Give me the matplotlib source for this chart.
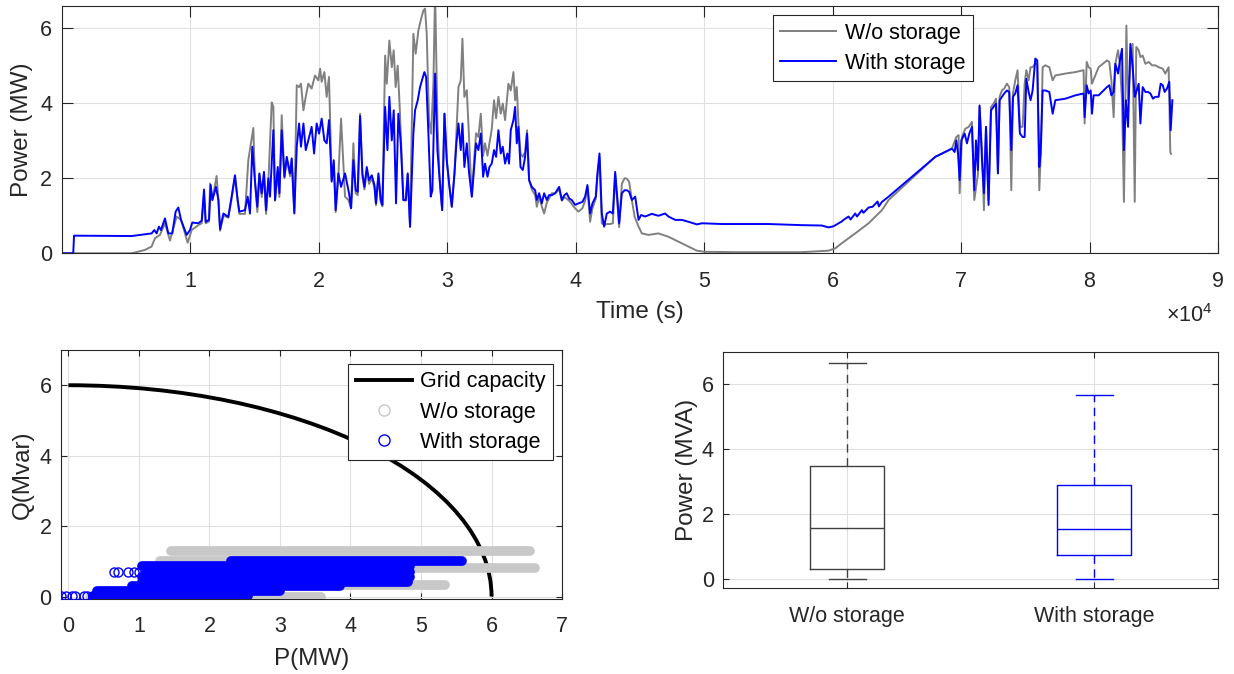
import numpy as np
import matplotlib
matplotlib.use("Agg")
import matplotlib.pyplot as plt
from matplotlib.patches import Arc
from matplotlib.lines import Line2D
from matplotlib.ticker import FuncFormatter

plt.rcParams["font.family"] = ["Liberation Sans", "DejaVu Sans"]
plt.rcParams["mathtext.fontset"] = "custom"
plt.rcParams["mathtext.rm"] = "Liberation Sans"

# ---- time series, time in 1e4 s, power in MW ----
t_wo = [0, 0.543, 0.646, 0.698, 0.724, 0.763, 0.802, 0.841, 0.893, 0.927, 0.979, 1.010, 1.062, 1.088,
        1.106, 1.119, 1.145, 1.153, 1.171, 1.204, 1.218, 1.231, 1.257, 1.295, 1.321, 1.347, 1.368, 1.381,
        1.425, 1.451, 1.490, 1.503, 1.521, 1.537, 1.555, 1.573, 1.589, 1.607, 1.633, 1.646, 1.659, 1.680,
        1.693, 1.711, 1.732, 1.750, 1.776, 1.789, 1.809, 1.828, 1.846, 1.861, 1.880, 1.898, 1.918, 1.944,
        1.970, 1.996, 2.010, 2.022, 2.043, 2.061, 2.079, 2.100, 2.116, 2.131, 2.152, 2.173, 2.204, 2.230,
        2.251, 2.269, 2.287, 2.303, 2.321, 2.339, 2.355, 2.373, 2.391, 2.412, 2.433, 2.445, 2.464, 2.482,
        2.495, 2.516, 2.529, 2.549, 2.568, 2.583, 2.598, 2.614, 2.632, 2.658, 2.677, 2.692, 2.710, 2.736,
        2.754, 2.775, 2.796, 2.814, 2.827, 2.840, 2.858, 2.874, 2.892, 2.905, 2.923, 2.941, 2.960, 2.978,
        2.996, 3.014, 3.035, 3.056, 3.071, 3.087, 3.105, 3.118, 3.133, 3.152, 3.170, 3.191, 3.209, 3.224,
        3.242, 3.261, 3.279, 3.294, 3.313, 3.328, 3.346, 3.364, 3.380, 3.398, 3.416, 3.432, 3.450, 3.476,
        3.494, 3.515, 3.528, 3.541, 3.554, 3.570, 3.588, 3.606, 3.621, 3.637, 3.658, 3.684, 3.697, 3.715,
        3.736, 3.754, 3.775, 3.814, 3.840, 3.871, 3.892, 3.912, 3.949, 3.995, 4.021, 4.052, 4.073, 4.091,
        4.112, 4.130, 4.156, 4.169, 4.185, 4.203, 4.221, 4.242, 4.268, 4.289, 4.307, 4.325, 4.338, 4.359,
        4.380, 4.398, 4.416, 4.437, 4.458, 4.489, 4.515, 4.566, 4.644, 4.722, 4.800, 4.878, 4.943, 5.002,
        5.241, 5.761, 5.968, 6.020, 6.072, 6.176, 6.280, 6.384, 6.436, 6.799, 6.929, 6.963, 6.981, 6.989,
        7.007, 7.033, 7.059, 7.085, 7.103, 7.131, 7.144, 7.163, 7.178, 7.194, 7.214, 7.233, 7.253, 7.272,
        7.287, 7.300, 7.318, 7.336, 7.357, 7.375, 7.391, 7.404, 7.422, 7.440, 7.458, 7.479, 7.495, 7.508,
        7.526, 7.541, 7.557, 7.578, 7.593, 7.609, 7.624, 7.635, 7.656, 7.687, 7.713, 7.734, 7.812, 7.890,
        7.954, 7.962, 7.978, 7.993, 8.009, 8.019, 8.071, 8.136, 8.154, 8.170, 8.188, 8.201, 8.222, 8.237,
        8.253, 8.268, 8.287, 8.300, 8.318, 8.336, 8.352, 8.364, 8.383, 8.396, 8.414, 8.435, 8.461, 8.487,
        8.512, 8.538, 8.570, 8.590, 8.616, 8.629, 8.635]
p_wo = [0, 0, 0.09, 0.18, 0.40, 0.49, 0.80, 0.34, 0.98, 0.89, 0.28, 0.62, 0.75, 0.80,
        1.55, 0.80, 0.85, 1.86, 1.42, 2.06, 1.42, 0.60, 1.00, 0.95, 1.45, 2.05, 1.40, 1.05,
        1.05, 2.48, 3.34, 1.91, 1.10, 2.10, 1.50, 2.10, 1.05, 1.90, 4.02, 3.90, 1.40, 2.20,
        1.50, 3.68, 2.00, 2.50, 2.05, 2.50, 1.10, 4.48, 4.43, 4.52, 3.81, 4.17, 4.52, 4.39,
        4.74, 4.61, 4.92, 4.57, 4.83, 4.17, 4.70, 1.95, 2.40, 1.10, 2.05, 3.59, 1.51, 1.42,
        1.20, 2.93, 1.60, 1.55, 3.72, 2.05, 1.70, 2.20, 1.85, 2.00, 1.75, 1.28, 2.05, 1.35,
        1.25, 5.27, 4.52, 5.67, 4.96, 5.41, 4.43, 5.00, 3.72, 1.42, 1.40, 2.10, 0.70, 5.85,
        5.32, 5.94, 6.25, 6.47, 6.52, 5.85, 3.55, 3.19, 4.52, 7.00, 3.55, 1.95, 1.15, 3.72,
        2.48, 1.86, 1.24, 2.13, 3.20, 4.43, 4.61, 5.72, 4.17, 4.35, 3.01, 1.51, 2.50, 3.20,
        3.10, 3.72, 2.60, 2.93, 2.60, 2.93, 3.30, 4.08, 3.60, 4.17, 3.72, 3.99, 3.55, 4.52,
        4.34, 4.83, 4.08, 4.43, 3.46, 2.66, 2.57, 2.70, 3.28, 1.95, 1.70, 1.55, 1.24, 1.50,
        1.25, 1.06, 1.35, 1.60, 1.60, 1.70, 1.40, 1.50, 1.40, 1.20, 1.11, 1.20, 1.40, 1.75,
        0.84, 1.20, 1.45, 2.05, 2.55, 0.80, 0.75, 0.78, 0.78, 0.80, 2.10, 1.30, 0.70, 1.85,
        2.00, 1.99, 1.90, 1.42, 0.98, 0.71, 0.53, 0.49, 0.53, 0.44, 0.31, 0.18, 0.07, 0.04,
        0.03, 0.03, 0.07, 0.13, 0.27, 0.53, 0.80, 1.15, 1.42, 2.57, 2.79, 3.10, 3.15, 1.60,
        3.10, 3.32, 3.37, 3.50, 1.42, 2.10, 3.90, 2.75, 1.15, 3.37, 1.42, 3.90, 3.99, 4.12,
        2.13, 4.17, 4.34, 4.39, 4.52, 4.43, 1.68, 4.26, 4.61, 4.88, 3.37, 3.37, 4.52, 4.88,
        4.61, 4.96, 4.96, 5.05, 5.05, 1.68, 3.01, 4.96, 5.01, 4.96, 4.61, 4.74, 4.79, 4.83,
        4.88, 3.46, 5.10, 4.96, 4.92, 4.52, 4.96, 5.14, 5.10, 4.61, 3.63, 5.05, 5.41, 5.05,
        4.08, 1.37, 6.07, 4.08, 4.96, 5.58, 1.37, 5.50, 5.41, 5.23, 5.27, 5.05, 5.10, 5.01,
        5.01, 4.96, 4.92, 4.79, 4.96, 2.70, 2.65]

t_with = [0, 0.088, 0.094, 0.543, 0.698, 0.719, 0.737, 0.755, 0.771, 0.802, 0.828, 0.859, 0.885, 0.906,
          0.927, 0.971, 0.997, 1.015, 1.062, 1.088, 1.106, 1.119, 1.145, 1.158, 1.171, 1.186, 1.199, 1.218,
          1.231, 1.257, 1.295, 1.321, 1.347, 1.368, 1.381, 1.425, 1.446, 1.464, 1.482, 1.503, 1.521, 1.537,
          1.555, 1.573, 1.589, 1.607, 1.620, 1.646, 1.659, 1.680, 1.693, 1.711, 1.732, 1.750, 1.776, 1.789,
          1.809, 1.828, 1.846, 1.861, 1.880, 1.898, 1.918, 1.944, 1.963, 1.983, 2.002, 2.022, 2.043, 2.061,
          2.079, 2.100, 2.116, 2.131, 2.152, 2.173, 2.204, 2.217, 2.235, 2.251, 2.269, 2.287, 2.303, 2.321,
          2.339, 2.355, 2.373, 2.391, 2.412, 2.433, 2.445, 2.464, 2.482, 2.495, 2.516, 2.534, 2.549, 2.568,
          2.583, 2.601, 2.619, 2.638, 2.658, 2.677, 2.692, 2.710, 2.736, 2.749, 2.770, 2.788, 2.806, 2.822,
          2.835, 2.853, 2.871, 2.884, 2.905, 2.923, 2.941, 2.960, 2.978, 2.996, 3.014, 3.035, 3.056, 3.071,
          3.087, 3.105, 3.118, 3.133, 3.152, 3.170, 3.191, 3.209, 3.224, 3.242, 3.261, 3.279, 3.294, 3.313,
          3.328, 3.346, 3.364, 3.380, 3.398, 3.416, 3.432, 3.450, 3.468, 3.481, 3.494, 3.515, 3.528, 3.541,
          3.554, 3.570, 3.588, 3.606, 3.621, 3.637, 3.658, 3.684, 3.697, 3.715, 3.736, 3.754, 3.775, 3.792,
          3.814, 3.840, 3.871, 3.892, 3.912, 3.930, 3.949, 3.969, 3.995, 4.021, 4.052, 4.073, 4.091, 4.112,
          4.130, 4.156, 4.169, 4.185, 4.203, 4.221, 4.242, 4.268, 4.289, 4.307, 4.325, 4.338, 4.359, 4.380,
          4.398, 4.416, 4.437, 4.463, 4.489, 4.509, 4.540, 4.592, 4.644, 4.696, 4.722, 4.774, 4.826, 4.878,
          4.943, 4.982, 5.138, 5.241, 5.501, 5.761, 5.916, 5.968, 6.007, 6.046, 6.072, 6.085, 6.124, 6.140,
          6.176, 6.190, 6.228, 6.240, 6.280, 6.311, 6.350, 6.360, 6.384, 6.436, 6.799, 6.929, 6.950, 6.963,
          6.976, 6.989, 7.002, 7.028, 7.046, 7.064, 7.085, 7.103, 7.116, 7.131, 7.144, 7.163, 7.178, 7.194,
          7.214, 7.233, 7.253, 7.272, 7.287, 7.300, 7.318, 7.336, 7.357, 7.375, 7.391, 7.404, 7.422, 7.440,
          7.458, 7.479, 7.495, 7.508, 7.526, 7.541, 7.557, 7.578, 7.593, 7.609, 7.619, 7.635, 7.656, 7.687,
          7.713, 7.734, 7.812, 7.890, 7.954, 7.962, 7.978, 7.993, 8.009, 8.019, 8.032, 8.071, 8.136, 8.154,
          8.170, 8.188, 8.201, 8.222, 8.237, 8.253, 8.268, 8.284, 8.300, 8.318, 8.336, 8.352, 8.364, 8.383,
          8.396, 8.414, 8.435, 8.455, 8.474, 8.494, 8.512, 8.538, 8.554, 8.570, 8.585, 8.603, 8.621, 8.632,
          8.645]
p_with = [0, 0, 0.47, 0.46, 0.53, 0.62, 0.53, 0.71, 0.62, 0.93, 0.53, 0.53, 1.11, 1.22,
          0.89, 0.49, 0.62, 0.82, 0.80, 0.87, 1.70, 0.84, 0.89, 1.82, 1.42, 1.60, 1.77, 1.42,
          0.64, 1.06, 0.97, 1.51, 2.08, 1.42, 1.11, 1.15, 1.51, 1.06, 2.84, 1.91, 1.24, 2.13,
          1.60, 2.17, 1.15, 2.00, 1.51, 3.28, 1.42, 2.30, 1.60, 3.28, 2.04, 2.57, 2.13, 2.53,
          1.06, 2.84, 3.46, 2.84, 3.46, 2.75, 3.01, 3.37, 2.66, 3.46, 3.19, 3.59, 3.01, 2.93,
          3.55, 1.91, 2.48, 1.15, 2.13, 1.77, 2.13, 1.91, 1.60, 1.20, 2.48, 1.68, 1.64, 3.66,
          2.13, 1.77, 2.30, 1.95, 2.08, 1.82, 1.33, 2.13, 1.42, 1.29, 3.90, 2.75, 4.17, 3.01,
          3.81, 1.33, 3.72, 2.93, 1.42, 1.42, 2.13, 0.71, 3.19, 3.81, 4.08, 4.43, 4.65, 4.83,
          4.70, 3.19, 1.51, 1.68, 4.79, 2.75, 1.95, 1.15, 3.72, 2.48, 1.86, 1.24, 2.13, 2.93,
          3.46, 2.75, 3.46, 2.30, 2.93, 2.13, 1.51, 2.30, 2.93, 2.75, 3.19, 2.04, 2.39, 2.04,
          2.30, 2.39, 2.75, 2.57, 3.28, 2.66, 2.84, 2.39, 2.66, 2.39, 3.28, 3.55, 3.90, 2.93,
          3.37, 2.30, 2.22, 2.57, 3.19, 1.95, 1.77, 1.68, 1.42, 1.60, 1.33, 1.60, 1.42, 1.55,
          1.55, 1.60, 1.77, 1.42, 1.55, 1.60, 1.46, 1.42, 1.29, 1.33, 1.37, 1.51, 1.82, 1.06,
          1.33, 1.51, 2.13, 2.66, 1.06, 0.71, 1.06, 1.11, 1.06, 2.17, 1.42, 0.80, 1.60, 1.68,
          1.68, 1.64, 1.42, 1.51, 0.89, 1.02, 0.98, 1.05, 1.00, 1.06, 0.98, 0.89, 0.89, 0.84,
          0.77, 0.80, 0.78, 0.78, 0.78, 0.75, 0.74, 0.69, 0.72, 0.80, 0.85, 0.89, 0.98, 0.90,
          1.06, 0.98, 1.15, 1.08, 1.22, 1.24, 1.38, 1.25, 1.37, 1.51, 2.57, 2.79, 2.70, 3.01,
          2.66, 1.95, 3.01, 3.19, 2.93, 3.19, 3.37, 1.68, 3.01, 2.22, 3.94, 2.48, 1.60, 3.37,
          1.29, 3.81, 3.90, 3.99, 2.13, 4.08, 4.17, 4.26, 4.34, 4.30, 2.75, 4.17, 4.26, 4.48,
          3.19, 3.10, 3.10, 4.65, 4.30, 4.08, 4.34, 5.19, 5.14, 2.30, 2.66, 4.34, 4.34, 4.30,
          3.72, 4.08, 4.12, 4.21, 4.26, 3.63, 4.48, 4.26, 4.34, 3.72, 4.21, 4.21, 4.43, 4.48,
          4.21, 4.30, 5.05, 4.79, 5.14, 5.45, 2.75, 4.08, 3.37, 5.58, 4.96, 4.17, 4.30, 4.52,
          3.46, 4.43, 4.30, 4.30, 4.26, 4.12, 4.17, 4.17, 4.52, 4.48, 4.30, 4.39, 4.57, 3.28,
          4.08]

# ---- P-Q operating points (bands of overlapping samples), MW / Mvar ----
grid_capacity = 6.0
wo_band_q = [1.30, 1.02, 0.80, 0.33, 0.00]
wo_band_p0 = [1.45, 1.30, 1.50, 2.00, 0.30]
wo_band_p1 = [6.55, 5.45, 6.62, 5.34, 3.58]
with_band_q = [1.02, 0.86, 0.69, 0.55, 0.42, 0.30, 0.15, 0.02]
with_band_p0 = [2.30, 1.05, 1.08, 1.05, 1.05, 0.90, 0.40, 0.35]
with_band_p1 = [5.58, 4.85, 4.85, 4.85, 4.82, 3.85, 3.00, 2.55]
with_single_p = [-0.10, -0.03, 0.05, 0.10, 0.22, 0.27, 0.65, 0.70, 0.85, 0.93, 1.00]
with_single_q = [0.02, 0.02, 0.02, 0.02, 0.02, 0.02, 0.69, 0.69, 0.69, 0.69, 0.69]

# ---- box plot statistics, MVA ----
box_labels = ["W/o storage", "With storage"]
box_whislo = [0.0, 0.0]
box_q1 = [0.30, 0.74]
box_med = [1.57, 1.54]
box_q3 = [3.46, 2.88]
box_whishi = [6.65, 5.65]

GREY = "#808080"
BLUE = "#0000ff"
LIGHT = "#c8c8c8"
AXC = "#262626"
GRIDC = "#e0e0e0"
FS_TICK = 15.5
FS_LAB = 17.5

fig = plt.figure(figsize=(12.34, 6.74), dpi=100)


def style(ax, ticklen):
    for s in ax.spines.values():
        s.set_color(AXC)
        s.set_linewidth(0.8)
    ax.tick_params(direction="in", top=True, right=True, length=ticklen, width=0.8,
                   colors=AXC, labelsize=FS_TICK, labelcolor=AXC)
    ax.tick_params(axis="x", pad=12.5)
    ax.tick_params(axis="y", pad=7)
    ax.grid(True, color=GRIDC, lw=0.8)
    ax.set_axisbelow(True)


def legend_box(ax, handles, labels, anchor):
    leg = ax.legend(handles, labels, loc="upper left", bbox_to_anchor=anchor, borderaxespad=0,
                    fontsize=FS_TICK, frameon=True, fancybox=False, handlelength=2.6,
                    borderpad=0.35, labelspacing=0.42, handletextpad=0.4, framealpha=1)
    leg.get_frame().set_edgecolor(AXC)
    leg.get_frame().set_linewidth(0.8)
    return leg


# top: time series
ax1 = fig.add_axes([0.0502, 0.6242, 0.9368, 0.3674])
l1, = ax1.plot(np.array(t_wo) * 1e4, p_wo, color=GREY, lw=1.4)
l2, = ax1.plot(np.array(t_with) * 1e4, p_with, color=BLUE, lw=1.4)
ax1.set_xlim(0, 9e4)
ax1.set_ylim(0, 6.6)
ax1.set_xticks(np.arange(1, 10) * 1e4)
ax1.set_yticks([0, 2, 4, 6])
ax1.xaxis.set_major_formatter(FuncFormatter(lambda v, _: f"{v / 1e4:g}"))
style(ax1, 8)
ax1.set_xlabel("Time (s)", fontsize=FS_LAB, color=AXC, labelpad=7)
ax1.set_ylabel("Power (MW)", fontsize=FS_LAB, color=AXC, labelpad=5)
legend_box(ax1, [l1, l2], ["W/o storage", "With storage"], (0.615, 0.962))
fig.text(1166 / 1234, 1 - 322 / 674, r"$\times\mathregular{10^{4}}$", fontsize=FS_TICK,
         color=AXC, ha="left", va="baseline")

# bottom left: P-Q plane
ax2 = fig.add_axes([0.0497, 0.1113, 0.4058, 0.3694])
ax2.add_patch(Arc((0, 0), 2 * grid_capacity, 2 * grid_capacity, theta1=0, theta2=90,
                  color="black", lw=2.8, zorder=2))
for q, a, b in zip(wo_band_q, wo_band_p0, wo_band_p1):
    ax2.plot([a, b], [q, q], color=LIGHT, lw=7, solid_capstyle="round", zorder=3)
for q, a, b in zip(with_band_q, with_band_p0, with_band_p1):
    ax2.plot([a, b], [q, q], color=BLUE, lw=7, solid_capstyle="round", zorder=4)
ax2.plot(with_single_p, with_single_q, "o", ms=6.5, mfc="none", mec=BLUE, mew=1.0, zorder=4)
ax2.set_xlim(-0.1, 7)
ax2.set_ylim(-0.07, 7)
ax2.set_xticks(range(0, 8))
ax2.set_yticks([0, 2, 4, 6])
style(ax2, 4)
ax2.set_xlabel("P(MW)", fontsize=FS_LAB, color=AXC, labelpad=8)
ax2.set_ylabel("Q(Mvar)", fontsize=FS_LAB, color=AXC, labelpad=4)
handles = [Line2D([], [], color="black", lw=2.8),
           Line2D([], [], ls="none", marker="o", ms=8, mfc="none", mec=LIGHT, mew=1.0),
           Line2D([], [], ls="none", marker="o", ms=8, mfc="none", mec=BLUE, mew=1.0)]
legend_box(ax2, handles, ["Grid capacity", "W/o storage", "With storage"], (0.5726, 0.944))

# bottom right: box plot
ax3 = fig.add_axes([0.5863, 0.1272, 0.4007, 0.3510])
box_colors = ["#404040", BLUE]
for i, c in enumerate(box_colors):
    st = dict(label=box_labels[i], whislo=box_whislo[i], q1=box_q1[i], med=box_med[i],
              q3=box_q3[i], whishi=box_whishi[i], fliers=[])
    ax3.bxp([st], positions=[i + 1], widths=0.3, capwidths=0.15, showfliers=False,
            boxprops=dict(color=c, lw=1.0),
            medianprops=dict(color=c, lw=1.0),
            whiskerprops=dict(color=c, lw=1.0, ls=(0, (6, 4))),
            capprops=dict(color=c, lw=1.0))
ax3.set_xlim(0.5, 2.5)
ax3.set_ylim(-0.3, 7)
ax3.set_xticks([1, 2])
ax3.set_xticklabels(box_labels)
ax3.set_yticks([0, 2, 4, 6])
style(ax3, 4)
ax3.set_ylabel("Power (MVA)", fontsize=FS_LAB, color=AXC, labelpad=2.5)

fig.savefig("out.png", dpi=100, facecolor="white")
